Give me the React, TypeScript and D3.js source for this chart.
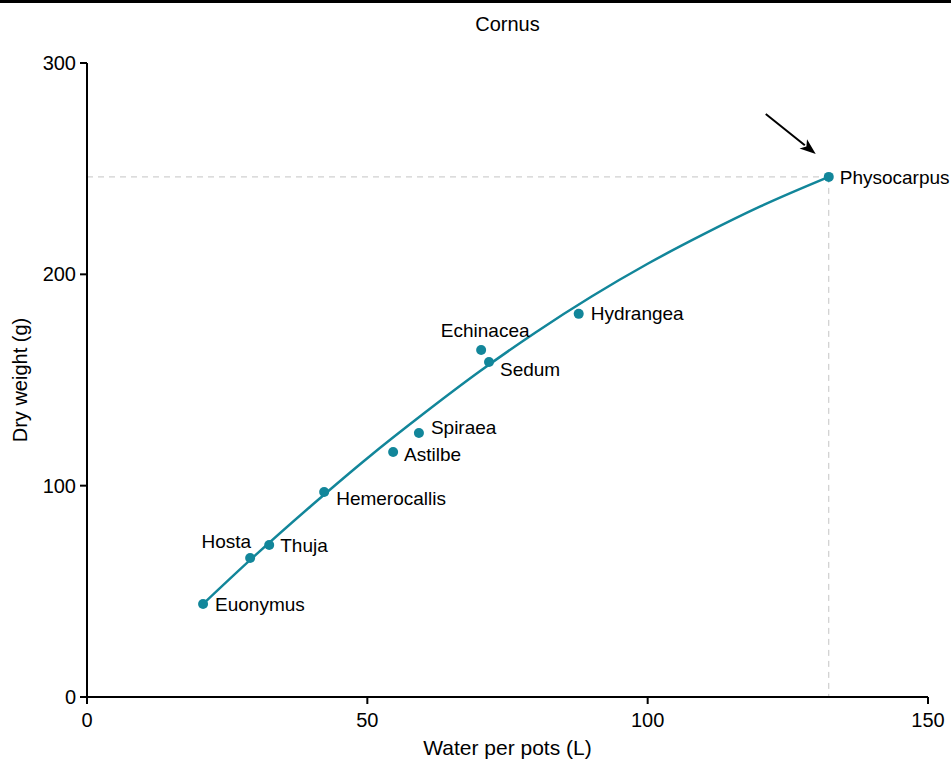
import React from "react";
import * as d3 from "d3";

const plants = ["Euonymus", "Hosta", "Thuja", "Hemerocallis", "Astilbe", "Spiraea", "Echinacea", "Sedum", "Hydrangea", "Physocarpus"];
const water = [20.7, 29.1, 32.5, 42.3, 54.6, 59.2, 70.3, 71.7, 87.7, 132.3];
const dryWeight = [44.0, 65.8, 71.9, 97.0, 115.9, 124.9, 164.2, 158.5, 181.3, 246.1];

const fitX = [20.7, 30, 40, 50, 60, 70, 80, 90, 100, 110, 120, 132.3];
const fitY = [44.0, 67.0, 90.5, 113.0, 134.0, 154.0, 172.5, 189.5, 205.0, 219.0, 232.0, 246.1];

const xTicks = [0, 50, 100, 150];
const yTicks = [0, 100, 200, 300];

const title = "Cornus";
const xTitle = "Water per pots (L)";
const yTitle = "Dry weight (g)";
const highlight = "Physocarpus";

// label placement: [dx, dy, anchor]
const labelPos: Record<string, [number, number, string]> = {
  Euonymus: [12, 7, "start"],
  Hosta: [1, -10, "end"],
  Thuja: [11, 7, "start"],
  Hemerocallis: [12, 13, "start"],
  Astilbe: [11, 9, "start"],
  Spiraea: [12, 1, "start"],
  Echinacea: [4, -13, "middle"],
  Sedum: [11, 14, "start"],
  Hydrangea: [12, 6, "start"],
  Physocarpus: [11, 7, "start"],
};

const W = 951, H = 760;
const M = { left: 87, right: 23, top: 63, bottom: 63 };
const TEAL = "#12869a";
const FONT = "'Liberation Sans', Arial, sans-serif";

export default function App() {
  const x = d3.scaleLinear().domain([0, 150]).range([M.left, W - M.right]);
  const y = d3.scaleLinear().domain([0, 300]).range([H - M.bottom, M.top]);
  const line = d3.line<number>().x((_, i) => x(fitX[i])).y((d) => y(d)).curve(d3.curveMonotoneX);
  const hi = plants.indexOf(highlight);
  const hx = x(water[hi]), hy = y(dryWeight[hi]);
  const fsLabel = 19, fsTick = 20, fsTitle = 20, fsAxis = 21;
  return (
    <svg width={W} height={H} style={{ position: "absolute", left: 0, top: 0, background: "#fff" }} fontFamily={FONT}>
      <rect x={0} y={0} width={W} height={3} fill="#000" />
      <text x={(x(0) + x(150)) / 2} y={31} textAnchor="middle" fontSize={fsTitle}>{title}</text>
      {/* dashed guides */}
      <line x1={x(0)} x2={hx} y1={hy} y2={hy} stroke="#c4c4c4" strokeDasharray="6,5" strokeWidth={1} />
      <line x1={hx} x2={hx} y1={hy} y2={y(0)} stroke="#c4c4c4" strokeDasharray="6,5" strokeWidth={1} />
      {/* axes */}
      <line x1={x(0)} x2={x(150)} y1={y(0)} y2={y(0)} stroke="#000" strokeWidth={2} />
      <line x1={x(0)} x2={x(0)} y1={y(0)} y2={y(300)} stroke="#000" strokeWidth={2} />
      {xTicks.map((t) => (
        <g key={"x" + t}>
          <line x1={x(t)} x2={x(t)} y1={y(0)} y2={y(0) + 7} stroke="#000" strokeWidth={2} />
          <text x={x(t)} y={y(0) + 30} textAnchor="middle" fontSize={fsTick}>{t}</text>
        </g>
      ))}
      {yTicks.map((t) => (
        <g key={"y" + t}>
          <line x1={x(0) - 7} x2={x(0)} y1={y(t)} y2={y(t)} stroke="#000" strokeWidth={2} />
          <text x={x(0) - 11} y={y(t) + 7} textAnchor="end" fontSize={fsTick}>{t}</text>
        </g>
      ))}
      <text x={(x(0) + x(150)) / 2} y={755} textAnchor="middle" fontSize={fsAxis}>{xTitle}</text>
      <text transform={`translate(27,${(y(0) + y(300)) / 2}) rotate(-90)`} textAnchor="middle" fontSize={fsAxis - 1}>{yTitle}</text>
      {/* fit */}
      <path d={line(fitY) || ""} fill="none" stroke={TEAL} strokeWidth={2.5} />
      {plants.map((p, i) => {
        const [dx, dy, anchor] = labelPos[p];
        return (
          <g key={p}>
            <circle cx={x(water[i])} cy={y(dryWeight[i])} r={5} fill={TEAL} />
            <text x={x(water[i]) + dx} y={y(dryWeight[i]) + dy} textAnchor={anchor as any} fontSize={fsLabel}>{p}</text>
          </g>
        );
      })}
      {/* arrow */}
      {(() => {
        const x1 = hx - 63, y1 = hy - 63, x2 = hx - 13, y2 = hy - 23;
        const ang = Math.atan2(y2 - y1, x2 - x1);
        const L = 16, Wd = 6;
        const bx = x2 - L * Math.cos(ang), by = y2 - L * Math.sin(ang);
        const px = -Math.sin(ang) * Wd, py = Math.cos(ang) * Wd;
        return (
          <g>
            <line x1={x1} y1={y1} x2={bx + 2 * Math.cos(ang)} y2={by + 2 * Math.sin(ang)} stroke="#000" strokeWidth={2} />
            <polygon points={`${x2},${y2} ${bx + px},${by + py} ${bx + 4 * Math.cos(ang)},${by + 4 * Math.sin(ang)} ${bx - px},${by - py}`} fill="#000" />
          </g>
        );
      })()}
    </svg>
  );
}
